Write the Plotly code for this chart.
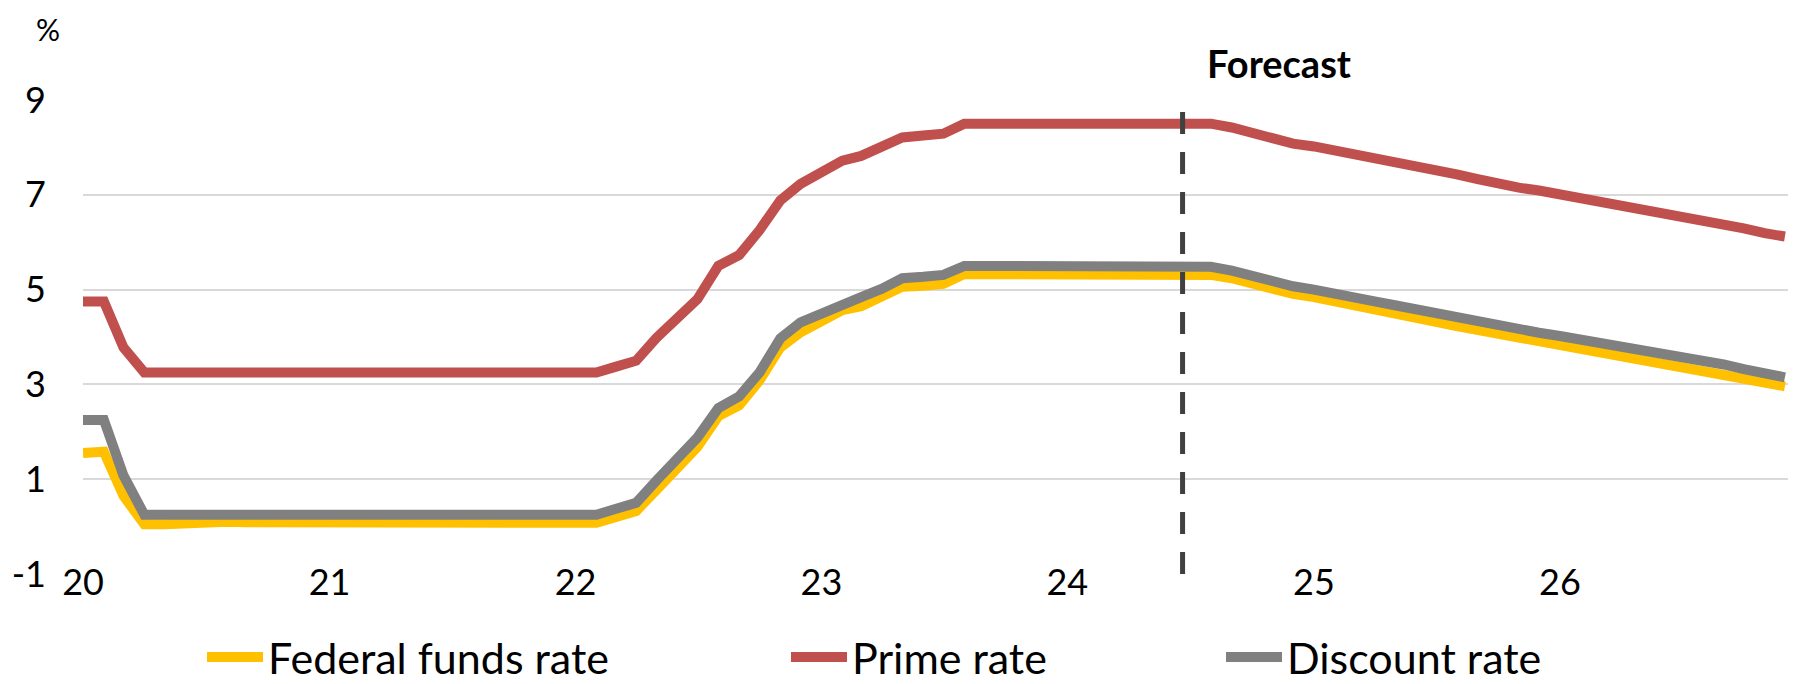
import pandas as pd
import plotly.graph_objects as go

# Monthly observations Jan 2020 .. Dec 2026
months = pd.date_range("2020-01-01", periods=84, freq="MS")

federal_funds = [
    1.55, 1.58, 0.65, 0.05, 0.05, 0.08, 0.09, 0.10, 0.09, 0.09, 0.09, 0.09,
    0.09, 0.08, 0.07, 0.07, 0.06, 0.08, 0.10, 0.09, 0.08, 0.08, 0.08, 0.08,
    0.08, 0.08, 0.20, 0.33, 0.77, 1.21, 1.68, 2.33, 2.56, 3.08, 3.78, 4.10,
    4.33, 4.57, 4.65, 4.83, 5.06, 5.08, 5.12, 5.33, 5.33, 5.33, 5.33, 5.33,
    5.33, 5.33, 5.33, 5.33, 5.33, 5.33,
    5.33, 5.31, 5.24, 5.12, 5.00, 4.91, 4.84, 4.76, 4.67, 4.58,
    4.50, 4.41, 4.32, 4.23, 4.15, 4.07, 3.99, 3.92, 3.85, 3.77,
    3.69, 3.61, 3.53, 3.46, 3.39, 3.32, 3.23, 3.13, 3.03, 2.96,
]

prime_rate = [
    4.75, 4.75, 3.78, 3.25, 3.25, 3.25, 3.25, 3.25, 3.25, 3.25, 3.25, 3.25,
    3.25, 3.25, 3.25, 3.25, 3.25, 3.25, 3.25, 3.25, 3.25, 3.25, 3.25, 3.25,
    3.25, 3.25, 3.37, 3.50, 3.98, 4.38, 4.80, 5.50, 5.73, 6.25, 6.88, 7.23,
    7.48, 7.72, 7.82, 7.99, 8.21, 8.25, 8.29, 8.50, 8.50, 8.50, 8.50, 8.50,
    8.50, 8.50, 8.50, 8.50, 8.50, 8.50,
    8.51, 8.50, 8.42, 8.30, 8.19, 8.08, 8.02, 7.94, 7.86, 7.77,
    7.68, 7.60, 7.51, 7.43, 7.33, 7.23, 7.15, 7.09, 7.01, 6.95,
    6.85, 6.77, 6.67, 6.61, 6.56, 6.48, 6.38, 6.29, 6.19, 6.12,
]

discount_rate = [
    2.25, 2.25, 1.08, 0.25, 0.25, 0.25, 0.25, 0.25, 0.25, 0.25, 0.25, 0.25,
    0.25, 0.25, 0.25, 0.25, 0.25, 0.25, 0.25, 0.25, 0.25, 0.25, 0.25, 0.25,
    0.25, 0.25, 0.37, 0.50, 0.97, 1.43, 1.88, 2.50, 2.75, 3.25, 3.97, 4.31,
    4.50, 4.72, 4.84, 5.02, 5.24, 5.27, 5.31, 5.50, 5.50, 5.50, 5.50, 5.50,
    5.50, 5.50, 5.50, 5.50, 5.50, 5.50,
    5.49, 5.48, 5.40, 5.28, 5.16, 5.07, 5.00, 4.93, 4.84, 4.75,
    4.67, 4.58, 4.49, 4.40, 4.32, 4.24, 4.16, 4.09, 4.02, 3.95,
    3.87, 3.79, 3.71, 3.65, 3.58, 3.51, 3.42, 3.32, 3.22, 3.15,
]

series_names = ["Federal funds rate", "Prime rate", "Discount rate"]
series_colors = ["#FFC000", "#C0504D", "#808080"]

year_ticks = ["2020-01-01", "2021-01-01", "2022-01-01", "2023-01-01",
              "2024-01-01", "2025-01-01", "2026-01-01"]
year_labels = ["20", "21", "22", "23", "24", "25", "26"]
y_ticks = [-1, 1, 3, 5, 7, 9]
y_labels = ["-1", "1", "3", "5", "7", "9"]

forecast_start = "2024-06-20"

FONT = "Lato"
# the page body has an 8px margin, so the figure is drawn 8px smaller and shifted
OFF = 8
W, H = 1796 - OFF, 684 - OFF
# plot area in reference pixel coordinates
REF_L, REF_R, REF_T, REF_B = 83, 1793, 100, 574
plot_l = REF_L - OFF
plot_t = REF_T - OFF
plot_r = W - (REF_R - OFF)
plot_b = H - (REF_B - OFF)
pw = W - plot_l - plot_r
ph = H - plot_t - plot_b


def px_x(ref_px):
    return (ref_px - OFF - plot_l) / pw


def px_y(ref_py):
    return (H - plot_b - (ref_py - OFF)) / ph


fig = go.Figure()
legend_ids = ["legend", "legend2", "legend3"]
for name, vals, col, lg in zip(series_names,
                               [federal_funds, prime_rate, discount_rate],
                               series_colors, legend_ids):
    fig.add_trace(go.Scatter(
        x=months, y=vals, name=name, mode="lines", showlegend=True,
        line=dict(color=col, width=10), legend=lg,
    ))

fig.add_shape(type="line", xref="x", yref="y",
              x0=forecast_start, x1=forecast_start, y0=-1, y1=9,
              line=dict(color="#404040", width=5, dash="22px,18px"),
              layer="above")

fig.add_annotation(x=px_x(1205), y=px_y(63), xref="paper", yref="paper",
                   xanchor="left", yanchor="middle",
                   text="<b>Forecast</b>", showarrow=False,
                   font=dict(family=FONT, size=38, color="#000000"))

fig.add_annotation(x=px_x(48), y=px_y(29), xref="paper", yref="paper", text="%",
                   xanchor="center", yanchor="middle",
                   showarrow=False, font=dict(family=FONT, size=30, color="#000000"))

legend_common = dict(orientation="h", yanchor="middle", xanchor="left",
                     font=dict(family=FONT, size=43, color="#000000"),
                     bgcolor="rgba(0,0,0,0)", itemwidth=56)
legend_y = px_y(657)
fig.update_layout(
    width=W, height=H, showlegend=True,
    margin=dict(l=plot_l, r=plot_r, t=plot_t, b=plot_b, autoexpand=False),
    paper_bgcolor="white", plot_bgcolor="white",
    font=dict(family=FONT, color="#000000"),
    legend=dict(x=px_x(202), y=legend_y, **legend_common),
    legend2=dict(x=px_x(786), y=legend_y, **legend_common),
    legend3=dict(x=px_x(1221), y=legend_y, **legend_common),
    xaxis=dict(
        type="date", range=["2020-01-01", "2026-12-13"],
        tickmode="array", tickvals=year_ticks, ticktext=year_labels,
        showgrid=False, zeroline=False, showline=False, ticks="",
        tickfont=dict(family=FONT, size=36, color="#000000"),
        ticklabelstandoff=-16, automargin=False,
    ),
    yaxis=dict(
        range=[-1, 9], tickmode="array", tickvals=y_ticks, ticktext=y_labels,
        showgrid=True, gridcolor="#D9D9D9", gridwidth=2,
        zeroline=False, showline=False, ticks="",
        tickfont=dict(family=FONT, size=36, color="#000000"),
        ticklabelstandoff=36, automargin=False,
    ),
)

fig.write_html("out.html")
